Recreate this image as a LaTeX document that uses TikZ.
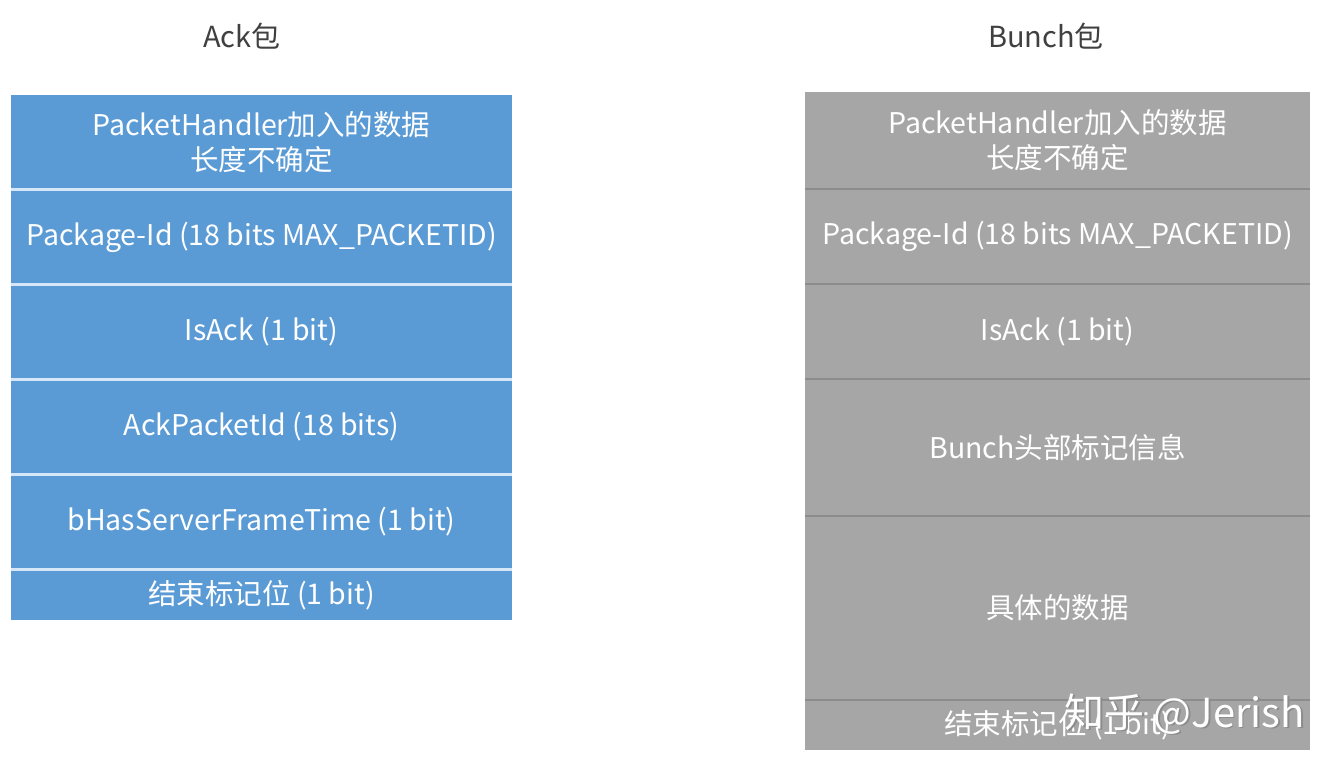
\documentclass[tikz,border=0pt]{standalone}
\usepackage{fontspec}
\setmainfont{Noto Sans CJK SC}
\definecolor{ackblue}{HTML}{5B9BD5}
\definecolor{acksep}{HTML}{D6E8F7}
\definecolor{bungray}{HTML}{A6A6A6}
\definecolor{bunsep}{HTML}{8C8C8C}
\definecolor{titlegray}{HTML}{404040}
\begin{document}
\begin{tikzpicture}[x=1pt,y=-1pt,
  rowtext/.style={text=white, font=\fontsize{28.5}{35}\selectfont, align=center, inner sep=0pt, outer sep=0pt},
  lrow/.style={rowtext, fill=ackblue, minimum width=501pt, anchor=north west},
  rrow/.style={rowtext, fill=bungray, minimum width=505pt, anchor=north west},
  lsep/.style={draw=acksep, line width=3pt},
  rsep/.style={draw=bunsep, line width=1.8pt},
  titletext/.style={text=titlegray, font=\fontsize{29}{32}\selectfont, inner sep=0pt}
]
\useasboundingbox (0,0) rectangle (1327,759);
\fill[white] (0,0) rectangle (1327,759);

\node[titletext] (tack) at (242,36) {Ack包};
\node[titletext] (tbun) at (1046,36) {Bunch包};

% Ack packet
\node[lrow, minimum height=94.5pt] (a1) at (11,95) {PacketHandler加入的数据\\长度不确定};
\node[lrow, minimum height=95pt] (a2) at (11,189.5) {Package-Id (18 bits MAX\_PACKETID)};
\node[lrow, minimum height=95pt] (a3) at (11,284.5) {IsAck (1 bit)};
\node[lrow, minimum height=95pt] (a4) at (11,379.5) {AckPacketId (18 bits)};
\node[lrow, minimum height=95pt] (a5) at (11,474.5) {bHasServerFrameTime (1 bit)};
\node[lrow, minimum height=50.5pt] (a6) at (11,569.5) {结束标记位 (1 bit)};
\foreach \n in {a1,a2,a3,a4,a5}
  \draw[lsep] (\n.south west) -- (\n.south east);

% Bunch packet
\node[rrow, minimum height=97pt] (b1) at (805,92) {PacketHandler加入的数据\\长度不确定};
\node[rrow, minimum height=95pt] (b2) at (805,189) {Package-Id (18 bits MAX\_PACKETID)};
\node[rrow, minimum height=95pt] (b3) at (805,284) {IsAck (1 bit)};
\node[rrow, minimum height=137pt] (b4) at (805,379) {Bunch头部标记信息};
\node[rrow, minimum height=184pt] (b5) at (805,516) {具体的数据};
\node[rrow, minimum height=50pt] (b6) at (805,700) {结束标记位 (1 bit)};
\foreach \n in {b1,b2,b3,b4,b5}
  \draw[rsep] (\n.south west) -- (\n.south east);

% watermark
\node[text=black!45, font=\fontsize{40}{44}\selectfont, anchor=east, inner sep=0pt] (wmshadow) at (1306.5,715.5) {知乎 @Jerish};
\node[text=white, font=\fontsize{40}{44}\selectfont, anchor=east, inner sep=0pt] (wm) at (1305,714) {知乎 @Jerish};
\end{tikzpicture}
\end{document}
